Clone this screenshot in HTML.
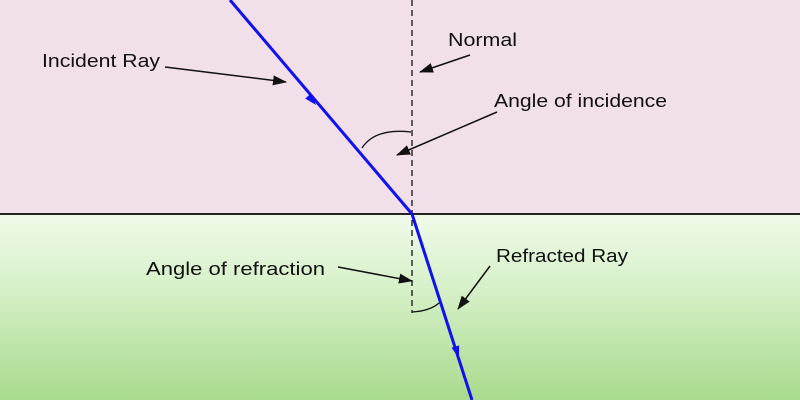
<!DOCTYPE html><html><head><style>body{margin:0}svg{display:block}text{font-family:"Liberation Sans",sans-serif;font-size:18px;fill:#111}</style></head><body>
<svg width="800" height="400" viewBox="0 0 800 400">
<defs><linearGradient id="g" x1="0" y1="0" x2="0" y2="1"><stop offset="0" stop-color="#f0fbea"/><stop offset="0.4" stop-color="#d6f0c8"/><stop offset="1" stop-color="#a8db8d"/></linearGradient>
<marker id="a" markerWidth="14" markerHeight="10" refX="13" refY="5" orient="auto" markerUnits="userSpaceOnUse"><path d="M0,0L14,5L0,10z" fill="#111"/></marker></defs>
<rect width="800" height="214" fill="#f1dfea"/>
<rect y="214" width="800" height="186" fill="url(#g)"/>
<line x1="0" y1="214" x2="800" y2="214" stroke="#222" stroke-width="2"/>
<line x1="412" y1="0" x2="412" y2="313" stroke="#111" stroke-width="1.3" stroke-dasharray="6,4"/>
<path d="M362,148 Q375,128 411,132" fill="none" stroke="#111" stroke-width="1.3"/>
<path d="M412,312 Q430,311 439,303" fill="none" stroke="#111" stroke-width="1.3"/>
<line x1="230" y1="0" x2="412" y2="214" stroke="#1010f0" stroke-width="3"/>
<line x1="412" y1="214" x2="472" y2="400" stroke="#1010f0" stroke-width="3"/>
<path d="M316,105 L305.2,98.5 L311.2,93.3z" fill="#1010f0"/>
<path d="M459,358 L451.5,347.8 L459.1,345.4z" fill="#1010f0"/>
<text x="42" y="67" textLength="118" lengthAdjust="spacingAndGlyphs">Incident Ray</text>
<line x1="165" y1="67" x2="286" y2="82" stroke="#111" stroke-width="1.5" marker-end="url(#a)"/>
<text x="448" y="46" textLength="69" lengthAdjust="spacingAndGlyphs">Normal</text>
<line x1="470" y1="55" x2="420" y2="72" stroke="#111" stroke-width="1.5" marker-end="url(#a)"/>
<text x="494" y="107" textLength="173" lengthAdjust="spacingAndGlyphs">Angle of incidence</text>
<line x1="497" y1="112" x2="397" y2="155" stroke="#111" stroke-width="1.5" marker-end="url(#a)"/>
<text x="146" y="275" textLength="179" lengthAdjust="spacingAndGlyphs">Angle of refraction</text>
<line x1="338" y1="267" x2="412" y2="281" stroke="#111" stroke-width="1.5" marker-end="url(#a)"/>
<text x="496" y="262" textLength="132" lengthAdjust="spacingAndGlyphs">Refracted Ray</text>
<line x1="490" y1="266" x2="458" y2="309" stroke="#111" stroke-width="1.5" marker-end="url(#a)"/>
</svg></body></html>
